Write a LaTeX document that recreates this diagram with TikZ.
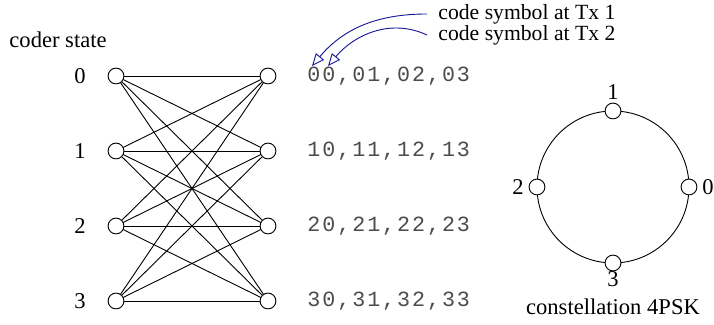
\documentclass[tikz,border=0pt]{standalone}
\usepackage{fontspec}
\setmainfont{Liberation Serif}
\newfontfamily\codefont[LetterSpace=9]{Liberation Mono}
\usetikzlibrary{arrows.meta}
\definecolor{arrowblue}{RGB}{20,20,150}
\begin{document}
\begin{tikzpicture}[x=0.443pt,y=-0.443pt,
  state/.style={circle,draw,fill=white,minimum size=7pt,inner sep=0pt},
  lbl/.style={font=\fontsize{10}{12}\selectfont},
  txlbl/.style={font=\fontsize{9.6}{12}\selectfont,anchor=west,inner sep=0pt},
  code/.style={font=\codefont\fontsize{9.6}{12}\selectfont,text=black!70,anchor=west,inner sep=0pt},
  tip/.style={arrowblue,-{Triangle[open,length=5.5pt,width=4.6pt]}}]
        \useasboundingbox (0,0) rectangle (714,325);
        \node[lbl,anchor=west,inner sep=0pt] (title) at (9,40) {coder state};
        % trellis
        \foreach \i in {0,...,3}
        {
        \coordinate (l\i) at (116,76+75*\i);
        \coordinate (r\i) at (268,76+75*\i);
        \node[lbl] (n\i) at (80,76+75*\i) {\i};
        \node[code] (c\i) at (307,76+75*\i) {\i0,\i1,\i2,\i3};
        }
        \foreach \i in {0,...,3}
        \foreach \j in {0,...,3}
        \draw (l\i) -- (r\j);
        \foreach \i in {0,...,3}
        {
        \node[state] (sl\i) at (l\i) {};
        \node[state] (sr\i) at (r\i) {};
        }
        % Tx labels
        \node[txlbl] (tx1) at (438,14) {code symbol at Tx 1};
        \node[txlbl] (tx2) at (438,35) {code symbol at Tx 2};
        \coordinate (tip1) at (312,66);
        \coordinate (tip2) at (328,66);
        \draw[tip] (tx1.west) ++(-11,0) to[out=180,in=50] (tip1);
        \draw[tip] (tx2.west) ++(-11,0) to[out=155,in=50] (tip2);
        % constellation
        \coordinate (ctr) at (613,187);
        \draw (ctr) circle [radius=76*0.443pt];
        \node[state] (p0) at (689,187) {};
        \node[state] (p1) at (613,111) {};
        \node[state] (p2) at (537,187) {};
        \node[state] (p3) at (613,263) {};
        \node[lbl,right=1pt,inner sep=1pt] at (p0.east) {0};
        \node[lbl,above=0pt,inner sep=1pt] at (p1.north) {1};
        \node[lbl,left=1pt,inner sep=1pt] at (p2.west) {2};
        \node[lbl,below=-1pt,inner sep=1pt] at (p3.south) {3};
        \node[lbl] (cname) at (613,307) {constellation 4PSK};
\end{tikzpicture}
\end{document}
